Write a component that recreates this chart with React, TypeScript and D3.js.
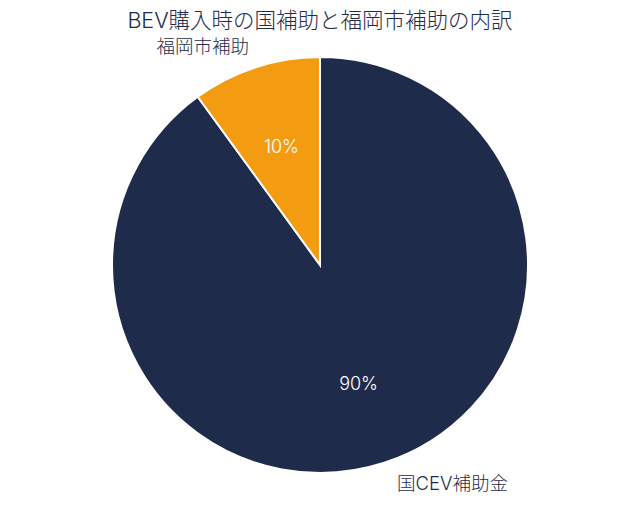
import * as d3 from "d3";

const labels = ["国CEV補助金", "福岡市補助"];
const shares = [90, 10];
const colors = ["#1e2b4a", "#f39c12"];

const width = 640;
const height = 507;
const cx = 320;
const cy = 265;
const radius = 208;
const font = "Inter, 'Noto Sans CJK JP', sans-serif";

export default function App() {
  const total = d3.sum(shares);
  // big slice runs clockwise from 12 o'clock, the small one sits to its left
  const angle = d3.scaleLinear().domain([0, total]).range([0, 2 * Math.PI]);
  const slices = [
    { startAngle: 0, endAngle: angle(shares[0]) },
    { startAngle: -angle(shares[1]), endAngle: 0 },
  ];
  const arc = d3.arc<{ startAngle: number; endAngle: number }>().innerRadius(0).outerRadius(radius);

  return (
    <svg
      width={width}
      height={height}
      style={{ position: "absolute", left: 0, top: 0, background: "#fff" }}
      fontFamily={font}
      fontWeight={300}
    >
      <text x={width / 2} y={28} textAnchor="middle" fontSize={21.5} fill="#1e2b4a">
        BEV購入時の国補助と福岡市補助の内訳
      </text>
      <g transform={`translate(${cx},${cy})`}>
        {slices.map((s, i) => (
          <path key={labels[i]} d={arc(s) ?? ""} fill={colors[i]} stroke="#fff" strokeWidth={2} />
        ))}
        {slices.map((sl, i) => {
          const mid = (sl.startAngle + sl.endAngle) / 2;
          const s = Math.sin(mid);
          const c = -Math.cos(mid);
          const rIn = radius * 0.6;
          const rOut = radius + 22;
          return (
            <g key={`t-${labels[i]}`}>
              <text
                x={s * rIn}
                y={c * rIn}
                dy="0.35em"
                textAnchor="middle"
                fontSize={18}
                fill="#ffffff"
              >
                {`${shares[i]}%`}
              </text>
              <text
                x={s * rOut + (s < 0 ? 0 : 6)}
                y={c * rOut}
                dy="0.35em"
                textAnchor={s < 0 ? "end" : "start"}
                fontSize={18.5}
                fill="#1e2b4a"
              >
                {labels[i]}
              </text>
            </g>
          );
        })}
      </g>
    </svg>
  );
}
